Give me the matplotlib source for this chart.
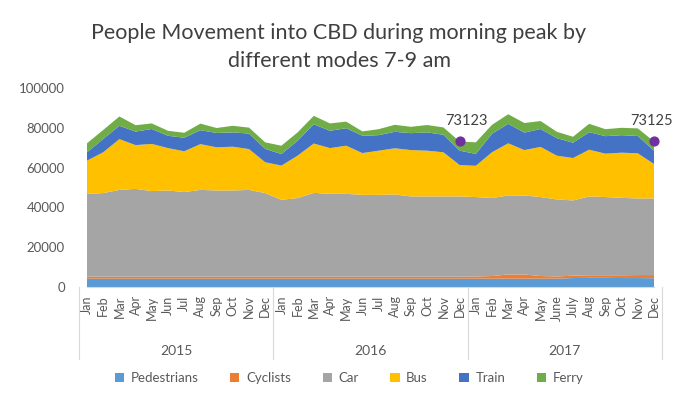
import numpy as np
import matplotlib
matplotlib.use("Agg")
import matplotlib.pyplot as plt
from matplotlib.patches import Patch
from matplotlib.lines import Line2D

plt.rcParams['font.family'] = ['Lato', 'DejaVu Sans']

years = ['2015', '2016', '2017']
months_std = ['Jan', 'Feb', 'Mar', 'Apr', 'May', 'Jun', 'Jul', 'Aug', 'Sep', 'Oct', 'Nov', 'Dec']
months_2017 = ['Jan', 'Feb', 'Mar', 'Apr', 'May', 'June', 'July', 'Aug', 'Sep', 'Oct', 'Nov', 'Dec']
month_labels = months_std + months_std + months_2017

pedestrians = [4200] * 12 + [4200] * 12 + [4200, 4200, 4200, 4200, 4200, 4200, 4500, 4600, 4600, 4500, 4500, 4400]
cyclists = [1000] * 12 + [1000] * 12 + [1100, 1300, 2100, 2100, 1300, 1100, 1200, 1300, 1300, 1400, 1500, 1600]
car = [41600, 42000, 43600, 44100, 43000, 43300, 42500, 43600, 43300, 43300, 43600, 42000,
       38600, 39500, 42100, 41600, 41600, 41100, 41100, 41300, 40300, 40300, 40300, 40300,
       39900, 39200, 39700, 39700, 39700, 38700, 37800, 39600, 39300, 38900, 38500, 38500]
bus = [16700, 20500, 25500, 22000, 23700, 21300, 20500, 23000, 21700, 22000, 20500, 15500,
       17200, 21300, 24800, 23000, 24200, 21000, 22200, 23200, 23300, 23000, 22200, 15800,
       15700, 23000, 26200, 22800, 25200, 22000, 21300, 23500, 21800, 22700, 22700, 17300]
train = [4200, 6700, 6700, 6800, 7500, 6200, 6800, 7000, 7200, 7200, 7800, 6700,
         5800, 7500, 9700, 8700, 8800, 8700, 7800, 8300, 8500, 9200, 8800, 7200,
         6000, 9300, 9800, 8800, 9000, 8800, 7700, 8800, 8800, 8800, 8700, 6700]
ferry = [4500, 4500, 4700, 3200, 2800, 2500, 2500, 3300, 2500, 3300, 3000, 3300,
         4200, 4200, 4200, 3700, 3300, 2200, 3000, 3500, 3200, 3700, 3700, 4623,
         5800, 4500, 4800, 4800, 4000, 3200, 3000, 4200, 3500, 3700, 3800, 4625]

series_names = ['Pedestrians', 'Cyclists', 'Car', 'Bus', 'Train', 'Ferry']
colors = ['#5B9BD5', '#ED7D31', '#A5A5A5', '#FFC000', '#4472C4', '#70AD47']

# totals flagged in the chart (Dec 2016, Dec 2017)
flag_idx = [23, 35]
flag_vals = [73123, 73125]
flag_dx = [5, -2]

x = np.arange(len(month_labels))
fig = plt.figure(figsize=(6.78, 3.94), dpi=100)
ax = fig.add_axes([87 / 678, 1 - 287 / 394, (654 - 87) / 678, (287 - 88) / 394])

ax.stackplot(x, pedestrians, cyclists, car, bus, train, ferry, colors=colors, linewidth=0)
ax.scatter(x[flag_idx], flag_vals, s=40, color='#7030A0', zorder=5, clip_on=False)
for i, v, dx in zip(flag_idx, flag_vals, flag_dx):
    ax.annotate(str(v), (x[i], v), xytext=(dx, 10), textcoords='offset points',
                ha='center', va='bottom', fontsize=10.5, color='#404040',
                annotation_clip=False)

ax.set_xlim(0, 35)
ax.set_ylim(0, 100000)
ax.set_yticks(range(0, 100001, 20000))
ax.tick_params(axis='y', length=0, labelsize=9.5, labelcolor='#595959', pad=16)
ax.set_xticks(x)
ax.set_xticklabels(month_labels, rotation=90, fontsize=9, color='#595959')
ax.tick_params(axis='x', length=0, pad=6)
for s in ['top', 'right', 'left']:
    ax.spines[s].set_visible(False)
ax.spines['bottom'].set_color('#D9D9D9')

# year groups below the month labels
trans = ax.get_xaxis_transform()
for k, yr in enumerate(years):
    ax.text(12 * k + 5.5, -0.32, yr, transform=trans, ha='center', va='center',
            fontsize=10, color='#595959')
for b in [-0.5, 11.5, 23.5, 35.5]:
    ax.add_line(Line2D([b, b], [0, -0.36], transform=trans, color='#D9D9D9',
                       linewidth=0.8, clip_on=False))

fig.text(0.5, 0.88, 'People Movement into CBD during morning peak by\ndifferent modes 7-9 am',
         ha='center', va='center', fontsize=15.5, color='#404040', linespacing=1.5)

handles = [Patch(facecolor=c, label=n) for n, c in zip(series_names, colors)]
fig.legend(handles=handles, loc='center', bbox_to_anchor=(0.515, 0.04), ncol=6,
           frameon=False, fontsize=9.5, handlelength=0.7, handleheight=0.7,
           columnspacing=2.4, handletextpad=0.5, labelcolor='#595959')

fig.savefig('out.png', dpi=100)
